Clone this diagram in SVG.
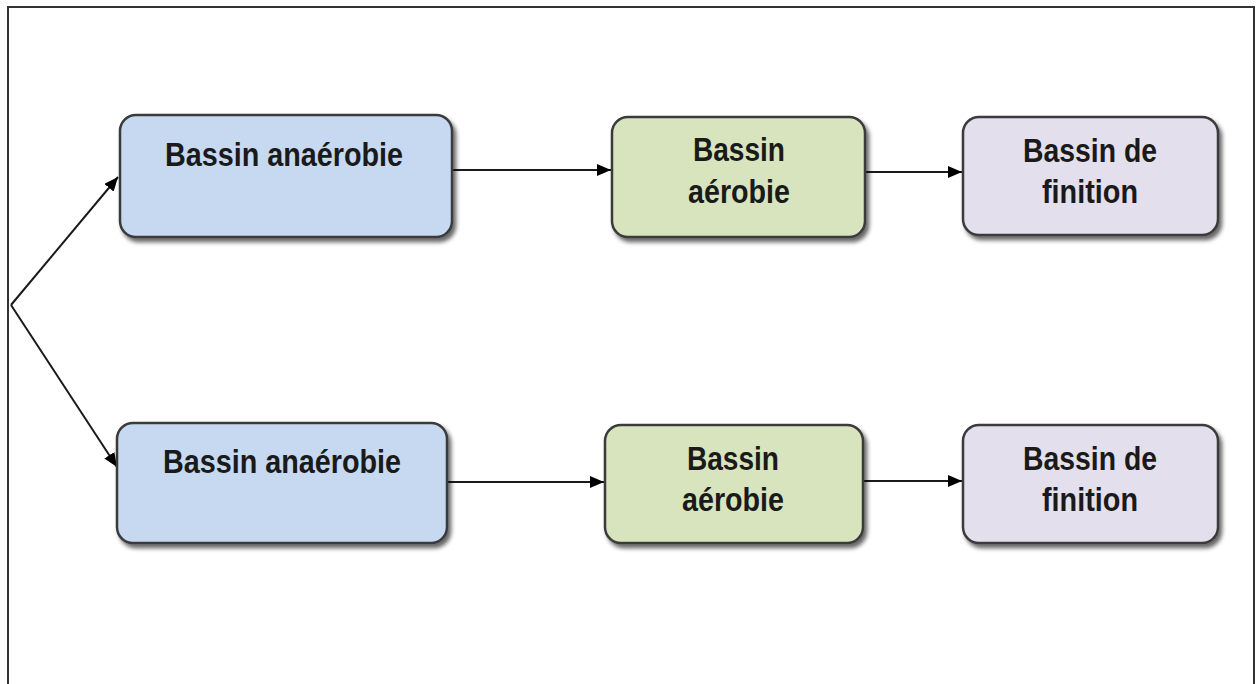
<svg xmlns="http://www.w3.org/2000/svg" width="1258" height="684" viewBox="0 0 1258 684">
  <style>
    .box { stroke: #3a3a3a; stroke-width: 2.5; filter: url(#shadow); }
    .blue { fill: #c6d9f1; }
    .green { fill: #d7e4bd; }
    .purple { fill: #e4dfec; }
    .lbl { font-family: "Liberation Sans", Arial, sans-serif; font-weight: bold; font-size: 33px; fill: #1a1a1a; text-anchor: middle; }
    .conn { stroke: #1a1a1a; stroke-width: 2; fill: none; marker-end: url(#arrow); }
  </style>
  <defs>
    <filter id="shadow" x="-10%" y="-10%" width="125%" height="130%">
      <feDropShadow dx="3" dy="4" stdDeviation="2" flood-color="#000" flood-opacity="0.6"/>
    </filter>
    <marker id="arrow" viewBox="0 0 14 12" refX="14" refY="6" markerWidth="14" markerHeight="12" markerUnits="userSpaceOnUse" orient="auto">
      <path d="M0,0 L14,6 L0,12 Z" fill="#000"/>
    </marker>
  </defs>
  <rect x="0" y="0" width="1258" height="684" fill="#fff"/>
  <path d="M8,690 L8,7 L1254,7 L1254,690" fill="none" stroke="#333" stroke-width="2"/>

  <g id="connectors">
    <polyline class="conn" points="11,305 118,177"/>
    <polyline class="conn" points="11,305 117,467"/>
    <line class="conn" x1="452" y1="170" x2="611" y2="170"/>
    <line class="conn" x1="865" y1="172" x2="962" y2="172"/>
    <line class="conn" x1="447" y1="482" x2="604" y2="482"/>
    <line class="conn" x1="863" y1="481" x2="962" y2="481"/>
  </g>

  <g id="node-anaerobie-1">
    <rect class="box blue" x="120" y="115" width="332" height="122" rx="16"/>
    <text class="lbl" x="284" y="166" textLength="238" lengthAdjust="spacingAndGlyphs">Bassin anaérobie</text>
  </g>
  <g id="node-aerobie-1">
    <rect class="box green" x="612" y="117" width="253" height="120" rx="16"/>
    <text class="lbl" x="739" y="161" textLength="92" lengthAdjust="spacingAndGlyphs">Bassin</text>
    <text class="lbl" x="739" y="203" textLength="102" lengthAdjust="spacingAndGlyphs">aérobie</text>
  </g>
  <g id="node-finition-1">
    <rect class="box purple" x="963" y="117" width="255" height="118" rx="16"/>
    <text class="lbl" x="1090" y="162" textLength="134" lengthAdjust="spacingAndGlyphs">Bassin de</text>
    <text class="lbl" x="1090" y="203" textLength="96" lengthAdjust="spacingAndGlyphs">finition</text>
  </g>

  <g id="node-anaerobie-2">
    <rect class="box blue" x="117" y="423" width="330" height="120" rx="16"/>
    <text class="lbl" x="282" y="473" textLength="238" lengthAdjust="spacingAndGlyphs">Bassin anaérobie</text>
  </g>
  <g id="node-aerobie-2">
    <rect class="box green" x="605" y="425" width="258" height="118" rx="16"/>
    <text class="lbl" x="733" y="470" textLength="92" lengthAdjust="spacingAndGlyphs">Bassin</text>
    <text class="lbl" x="733" y="511" textLength="102" lengthAdjust="spacingAndGlyphs">aérobie</text>
  </g>
  <g id="node-finition-2">
    <rect class="box purple" x="963" y="425" width="255" height="118" rx="16"/>
    <text class="lbl" x="1090" y="470" textLength="134" lengthAdjust="spacingAndGlyphs">Bassin de</text>
    <text class="lbl" x="1090" y="511" textLength="96" lengthAdjust="spacingAndGlyphs">finition</text>
  </g>
</svg>
